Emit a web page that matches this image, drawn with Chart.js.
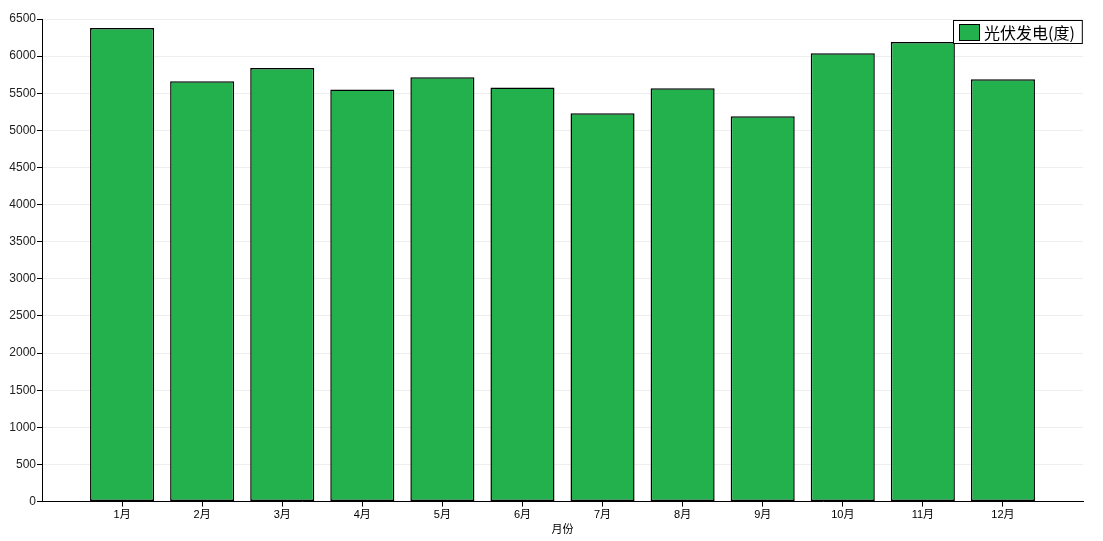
<!DOCTYPE html>
<html>
<head>
<meta charset="utf-8">
<script src="https://cdn.jsdelivr.net/npm/chart.js@4.4.0/dist/chart.umd.min.js"></script>
<style>
html,body{margin:0;padding:0;background:#fff;}
#wrap{width:1103px;height:541px;position:relative;}
</style>
</head>
<body>
<div id="wrap"><canvas id="c" width="1103" height="541"></canvas></div>
<script>
const categories = ['1月','2月','3月','4月','5月','6月','7月','8月','9月','10月','11月','12月'];
const pvValues = [6380, 5660, 5840, 5550, 5715, 5576, 5230, 5568, 5190, 6040, 6189, 5690];
const seriesName = '光伏发电(度)';
const xTitle = '月份';

const labels = [''].concat(categories, ['']);
const data = [null].concat(pvValues, [null]);

const FONT = "'Liberation Sans', 'Noto Sans CJK SC', sans-serif";

const boxLegend = {
  id: 'boxLegend',
  afterDraw(chart) {
    const ctx = chart.ctx;
    const ds = chart.data.datasets[0];
    const ca = chart.chartArea;
    ctx.save();
    ctx.font = "16px 'Noto Sans CJK SC', sans-serif";
    const tw = ctx.measureText(ds.label).width;
    const w = 6 + 20 + 5 + tw + 8;
    const h = 24;
    const x = Math.round(ca.right - w);
    const y = Math.round(ca.top + 1);
    ctx.fillStyle = '#fff';
    ctx.fillRect(x, y, w, h);
    ctx.strokeStyle = '#000';
    ctx.lineWidth = 1;
    ctx.strokeRect(x + 0.5, y + 0.5, w - 1, h - 1);
    ctx.fillStyle = ds.backgroundColor;
    ctx.fillRect(x + 6, y + 4, 20, 16);
    ctx.strokeRect(x + 6.5, y + 4.5, 20, 16);
    ctx.fillStyle = '#000';
    ctx.textBaseline = 'middle';
    ctx.fillText(ds.label, x + 31, y + h / 2 + 1);
    ctx.restore();
  }
};

new Chart(document.getElementById('c'), {
  type: 'bar',
  data: {
    labels: labels,
    datasets: [{
      label: seriesName,
      data: data,
      backgroundColor: '#23b14d',
      borderColor: '#000',
      borderWidth: 1.5,
      borderSkipped: false,
      barPercentage: 0.8,
      categoryPercentage: 1.0
    }]
  },
  options: {
    responsive: false,
    animation: false,
    layout: { padding: { top: 19, right: 20, left: 0, bottom: 4 } },
    plugins: {
      legend: { display: false },
      tooltip: { enabled: false }
    },
    scales: {
      x: {
        offset: false,
        grid: {
          offset: false,
          drawOnChartArea: false,
          drawTicks: true,
          tickLength: 5,
          tickColor: (c) => (c.tick && c.tick.label === '') ? 'rgba(0,0,0,0)' : '#000'
        },
        border: { display: true, color: '#000', width: 1 },
        ticks: {
          color: '#000',
          font: { family: FONT, size: 11 },
          maxRotation: 0,
          autoSkip: false,
          padding: 2
        },
        title: {
          display: true,
          text: xTitle,
          color: '#000',
          font: { family: FONT, size: 11 },
          padding: { top: 0, bottom: 0 }
        }
      },
      y: {
        min: 0,
        max: 6500,
        afterFit: (s) => { s.width = 42; },
        grid: {
          color: '#eeeeee',
          tickColor: '#000',
          tickLength: 5,
          drawTicks: true
        },
        border: { display: true, color: '#000', width: 1 },
        ticks: {
          stepSize: 500,
          color: '#222',
          font: { family: FONT, size: 12 },
          padding: 1,
          callback: (v) => String(v)
        }
      }
    }
  },
  plugins: [boxLegend]
});
</script>
</body>
</html>
